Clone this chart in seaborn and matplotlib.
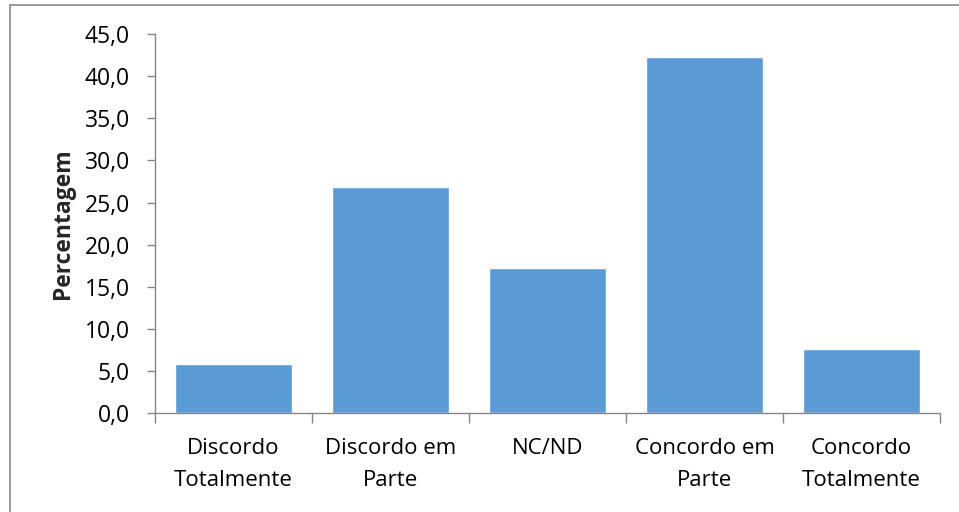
import matplotlib
matplotlib.use("Agg")
import matplotlib.pyplot as plt
import seaborn as sns
import pandas as pd
from matplotlib.patches import Rectangle
from matplotlib.ticker import FixedLocator, NullFormatter

categories = ["Discordo\nTotalmente", "Discordo em\nParte", "NC/ND", "Concordo em\nParte", "Concordo\nTotalmente"]
values = [5.8, 26.9, 17.2, 42.3, 7.6]
yticks = [0, 5, 10, 15, 20, 25, 30, 35, 40, 45]
ytick_labels = ["0,0", "5,0", "10,0", "15,0", "20,0", "25,0", "30,0", "35,0", "40,0", "45,0"]

sns.set_theme(style="white")
plt.rcParams['font.family'] = ['Open Sans', 'DejaVu Sans']

df = pd.DataFrame({"cat": categories, "val": values})

fig = plt.figure(figsize=(9.59, 5.12), dpi=100)
ax = fig.add_axes([155/959, 1-413.3/512, (940-155)/959, (413.3-34)/512])

sns.barplot(data=df, x="cat", y="val", color="#5B9BD5", saturation=1, width=0.75, ax=ax)

ax.set_ylim(0, 45)
ax.set_xlim(-0.5, len(categories) - 0.5)
ax.set_yticks(yticks)
ax.set_yticklabels(ytick_labels, fontsize=16.5, color="black")
ax.set_xticks(range(len(categories)))
ax.set_xticklabels(categories, fontsize=16, color="black", linespacing=1.65)
ax.tick_params(axis="x", length=0, pad=18)
ax.xaxis.set_minor_locator(FixedLocator([i - 0.5 for i in range(len(categories) + 1)]))
ax.xaxis.set_minor_formatter(NullFormatter())
ax.tick_params(axis="x", which="minor", length=7, width=1, color="#868686", direction="out", bottom=True)
ax.tick_params(axis="y", length=6, width=1, color="#868686", direction="out", left=True, pad=12)

ax.set_xlabel("")
ax.set_ylabel("Percentagem", fontsize=16.5, fontweight="bold", labelpad=7)

for side in ["top", "right"]:
    ax.spines[side].set_visible(False)
for side in ["left", "bottom"]:
    ax.spines[side].set_color("#868686")
    ax.spines[side].set_linewidth(1)

fig.patches.append(Rectangle((10/959, -0.1), 1.2, 1 - 5/512 + 0.1, transform=fig.transFigure,
                             fill=False, edgecolor="#868686", linewidth=1.2))

fig.savefig("out.png", dpi=100, facecolor="white")
